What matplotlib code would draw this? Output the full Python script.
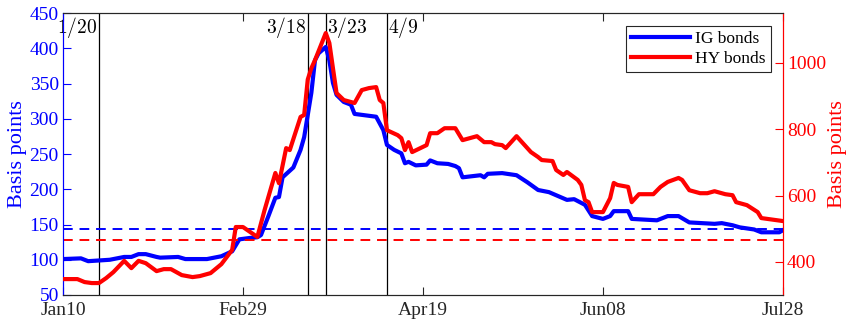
import numpy as np
import matplotlib
matplotlib.use('Agg')
import matplotlib.pyplot as plt
import matplotlib.dates as mdates
import matplotlib.transforms as mtransforms

plt.rcParams['font.family'] = ['Liberation Serif', 'DejaVu Serif']
plt.rcParams['mathtext.fontset'] = 'cm'

# IG spreads (left axis, bp)
ig_dates = ['2020-01-10', '2020-01-15', '2020-01-17', '2020-01-23', '2020-01-27', '2020-01-29',
            '2020-01-31', '2020-02-02', '2020-02-05', '2020-02-06', '2020-02-11', '2020-02-13',
            '2020-02-19', '2020-02-23', '2020-02-26', '2020-02-28', '2020-03-02', '2020-03-04',
            '2020-03-05', '2020-03-07', '2020-03-09', '2020-03-10', '2020-03-11', '2020-03-14',
            '2020-03-16', '2020-03-17', '2020-03-19', '2020-03-20', '2020-03-21', '2020-03-23',
            '2020-03-24', '2020-03-25', '2020-03-26', '2020-03-28', '2020-03-30', '2020-03-31',
            '2020-04-03', '2020-04-06', '2020-04-08', '2020-04-09', '2020-04-11', '2020-04-13',
            '2020-04-14', '2020-04-15', '2020-04-17', '2020-04-20', '2020-04-21', '2020-04-23',
            '2020-04-26', '2020-04-28', '2020-04-29', '2020-04-30', '2020-05-05', '2020-05-06',
            '2020-05-07', '2020-05-11', '2020-05-15', '2020-05-18', '2020-05-21', '2020-05-24',
            '2020-05-29', '2020-05-31', '2020-06-03', '2020-06-05', '2020-06-08', '2020-06-10',
            '2020-06-11', '2020-06-15', '2020-06-16', '2020-06-23', '2020-06-26', '2020-06-29',
            '2020-07-02', '2020-07-09', '2020-07-11', '2020-07-14', '2020-07-16', '2020-07-20',
            '2020-07-22', '2020-07-27', '2020-07-28']
ig_vals = [101, 102, 98, 100, 104, 104,
           108, 108, 104, 103, 104, 101,
           101, 105, 112, 129, 131, 132,
           135, 161, 188, 189, 217, 231,
           256, 274, 337, 383, 393, 402,
           383, 351, 334, 324, 320, 307,
           305, 303, 284, 263, 256, 251,
           237, 239, 234, 235, 241, 237,
           236, 233, 230, 217, 220, 217,
           222, 223, 220, 210, 199, 196,
           185, 186, 178, 162, 158, 162,
           169, 169, 158, 156, 162, 162,
           153, 151, 152, 149, 146, 143,
           139, 139, 142]

# HY spreads (right axis, bp)
hy_dates = ['2020-01-10', '2020-01-14', '2020-01-16', '2020-01-18', '2020-01-20', '2020-01-22',
            '2020-01-24', '2020-01-27', '2020-01-29', '2020-01-31', '2020-02-02', '2020-02-05',
            '2020-02-07', '2020-02-09', '2020-02-12', '2020-02-15', '2020-02-17', '2020-02-20',
            '2020-02-23', '2020-02-26', '2020-02-27', '2020-02-29', '2020-03-02', '2020-03-04',
            '2020-03-06', '2020-03-09', '2020-03-10', '2020-03-12', '2020-03-13', '2020-03-16',
            '2020-03-17', '2020-03-18', '2020-03-19', '2020-03-20', '2020-03-23', '2020-03-24',
            '2020-03-25', '2020-03-26', '2020-03-28', '2020-03-31', '2020-04-02', '2020-04-04',
            '2020-04-06', '2020-04-07', '2020-04-08', '2020-04-09', '2020-04-12', '2020-04-13',
            '2020-04-14', '2020-04-15', '2020-04-16', '2020-04-20', '2020-04-21', '2020-04-23',
            '2020-04-25', '2020-04-28', '2020-04-30', '2020-05-04', '2020-05-06', '2020-05-08',
            '2020-05-09', '2020-05-11', '2020-05-12', '2020-05-15', '2020-05-18', '2020-05-19',
            '2020-05-21', '2020-05-22', '2020-05-25', '2020-05-26', '2020-05-28', '2020-05-29',
            '2020-06-01', '2020-06-02', '2020-06-03', '2020-06-04', '2020-06-05', '2020-06-08',
            '2020-06-09', '2020-06-10', '2020-06-11', '2020-06-12', '2020-06-15', '2020-06-16',
            '2020-06-18', '2020-06-22', '2020-06-24', '2020-06-26', '2020-06-29', '2020-06-30',
            '2020-07-02', '2020-07-05', '2020-07-07', '2020-07-09', '2020-07-12', '2020-07-14',
            '2020-07-15', '2020-07-18', '2020-07-21', '2020-07-22', '2020-07-24', '2020-07-28']
hy_vals = [348, 348, 339, 336, 336, 351,
           369, 403, 381, 403, 396, 372,
           378, 378, 360, 354, 357, 366,
           393, 436, 505, 505, 490, 475,
           556, 668, 637, 743, 737, 837,
           843, 950, 984, 1008, 1090, 1060,
           984, 909, 888, 879, 918, 924,
           927, 888, 879, 797, 782, 773,
           737, 761, 731, 752, 788, 788,
           803, 803, 767, 779, 761, 761,
           755, 752, 743, 779, 743, 731,
           716, 707, 704, 677, 662, 671,
           647, 632, 586, 580, 550, 550,
           571, 592, 638, 632, 626, 580,
           604, 604, 626, 641, 653, 647,
           616, 607, 607, 613, 604, 601,
           580, 571, 550, 532, 529, 523]

ig_avg = 144
hy_avg = 465

events = ['2020-01-20', '2020-03-18', '2020-03-23', '2020-04-09']
event_labels = ['1/20', '3/18', '3/23', '4/9']
event_align = ['right', 'right', 'left', 'left']

xticks = ['2020-01-10', '2020-02-29', '2020-04-19', '2020-06-08', '2020-07-28']

ig_x = np.array(ig_dates, dtype='datetime64[D]')
hy_x = np.array(hy_dates, dtype='datetime64[D]')

fig = plt.figure(figsize=(8.51, 3.21), dpi=100)
ax = fig.add_axes([0.074, 0.081, 0.846, 0.878])
ax2 = ax.twinx()

dark = '#262626'

for d in events:
    ax.axvline(np.datetime64(d), color='black', lw=0.9, zorder=1)

ax.axhline(ig_avg, color='blue', lw=1.4, ls=(0, (5, 3.5)), zorder=2)
ig_line, = ax.plot(ig_x, ig_vals, color='blue', lw=3, label='IG bonds', zorder=3)

ax2.axhline(hy_avg, color='red', lw=1.4, ls=(0, (5, 3.5)), zorder=2)
hy_line, = ax2.plot(hy_x, hy_vals, color='red', lw=3, label='HY bonds', zorder=3)

ax.set_ylim(50, 450)
ax.set_yticks(np.arange(50, 451, 50))
ax2.set_ylim(300, 1150)
ax2.set_yticks([400, 600, 800, 1000])

tick_dates = np.array(xticks, dtype='datetime64[D]')
ax.set_xlim(tick_dates[0], tick_dates[-1])
ax.set_xticks(tick_dates)
ax.xaxis.set_major_formatter(mdates.DateFormatter('%b%d'))

ax.tick_params(axis='x', direction='in', length=5.5, width=0.8, colors=dark,
               labelsize=14, top=True, pad=5)
ax.tick_params(axis='y', direction='in', length=5.5, width=0.8, colors='blue',
               labelsize=14, pad=3)
ax2.tick_params(axis='y', direction='in', length=5.5, width=0.8, colors='red',
                labelsize=14, pad=3)

ax.set_ylabel('Basis points', color='blue', fontsize=16, labelpad=2)
ax2.set_ylabel('Basis points', color='red', fontsize=16, labelpad=1)

for a in (ax, ax2):
    a.spines['top'].set_color(dark)
    a.spines['bottom'].set_color(dark)
    a.spines['left'].set_color('blue')
    a.spines['right'].set_color('red')
    for s in a.spines.values():
        s.set_linewidth(0.8)

trans = mtransforms.blended_transform_factory(ax.transData, ax.transAxes)
for d, lab, ha in zip(events, event_labels, event_align):
    off = -1 if ha == 'right' else 1
    ax.annotate('$' + lab + '$', xy=(np.datetime64(d), 0.995), xycoords=trans,
                xytext=(off, 0), textcoords='offset points',
                ha=ha, va='top', fontsize=14, color='black')

leg = ax2.legend(handles=[ig_line, hy_line], loc='upper right',
                 bbox_to_anchor=(0.983, 0.955), fontsize=12.5, frameon=True,
                 fancybox=False, framealpha=1, edgecolor=dark,
                 handlelength=3.4, handletextpad=0.3, borderpad=0.3,
                 labelspacing=0.2, borderaxespad=0)
leg.get_frame().set_linewidth(0.8)

fig.savefig('out.png', dpi=100)
